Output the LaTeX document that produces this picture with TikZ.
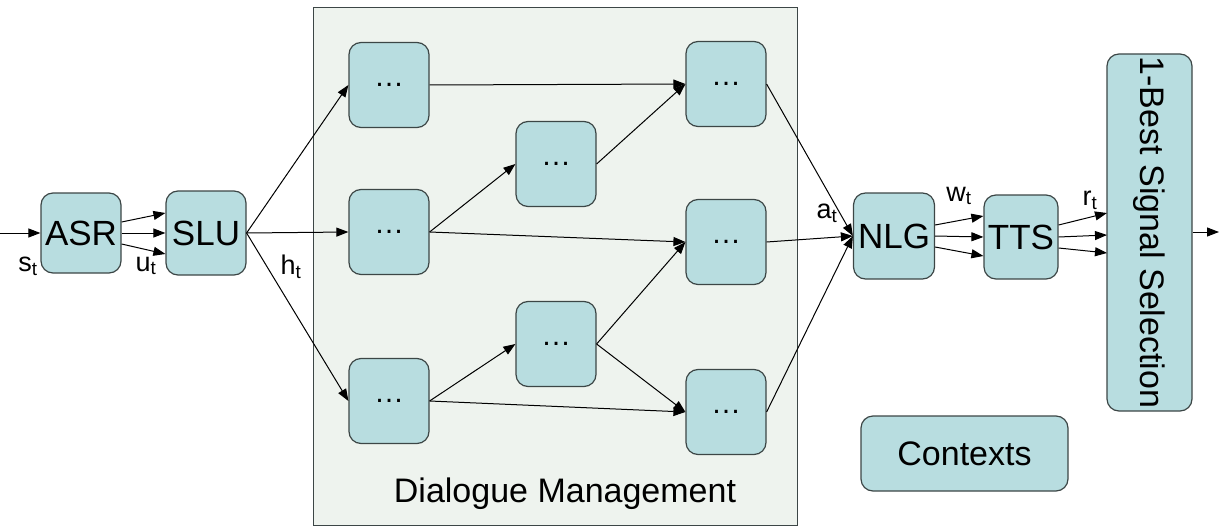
\documentclass[tikz,border=0pt]{standalone}
\usepackage{fontspec}
\setmainfont{Liberation Sans}
\usetikzlibrary{arrows.meta}
\definecolor{boxfill}{RGB}{184,221,224}
\definecolor{boxline}{RGB}{60,70,70}
\definecolor{dmfill}{RGB}{238,243,238}
\begin{document}
\begin{tikzpicture}[x=1pt,y=-1pt,
  blk/.style={draw=boxline,fill=boxfill,rounded corners=12pt,line width=1.2pt,inner sep=0pt,font=\fontsize{35}{38}\selectfont},
  dots/.style={blk,minimum width=80pt,minimum height=85pt,font=\fontsize{30}{32}\selectfont},
  arr/.style={-{Triangle[length=12pt,width=9pt]},line width=1pt,black},
  lbl/.style={font=\fontsize{27}{30}\selectfont,inner sep=0pt}
]
\useasboundingbox (0,0) rectangle (1219,527);
% Dialogue management background
\node[draw=boxline,fill=dmfill,line width=1pt,minimum width=484pt,minimum height=517pt,inner sep=0pt] (dm) at (555,266.5) {};
\node[font=\fontsize{34}{36}\selectfont] (dmlabel) at (565,494) {Dialogue Management};
% main blocks
\node[blk,minimum width=80pt,minimum height=80pt] (asr) at (81,233) {ASR};
\node[blk,minimum width=80pt,minimum height=84pt] (slu) at (206,233) {SLU};
\node[dots] (l1) at (389,85) {\dots};
\node[dots] (l2) at (389,232) {\dots};
\node[dots] (l3) at (389,401) {\dots};
\node[dots] (m1) at (556,164) {\dots};
\node[dots] (m2) at (556,344) {\dots};
\node[dots] (r1) at (726,84) {\dots};
\node[dots] (r2) at (726,242) {\dots};
\node[dots] (r3) at (726,412) {\dots};
\node[blk,minimum width=81pt,minimum height=86pt] (nlg) at (894,236) {NLG};
\node[blk,minimum width=74pt,minimum height=84pt] (tts) at (1021,237) {TTS};
\node[blk,minimum width=85pt,minimum height=357pt] (best) at (1149.5,232.5) {};
\node[rotate=-90,font=\fontsize{34}{36}\selectfont] (besttext) at (best.center) {1-Best Signal Selection};
\node[blk,minimum width=207pt,minimum height=75pt,font=\fontsize{34}{36}\selectfont] (ctx) at (964.5,453.5) {Contexts};
% labels
\node[lbl] (st) at (28,266) {s\textsubscript{t}};
\node[lbl] (ut) at (146,266) {u\textsubscript{t}};
\node[lbl] (ht) at (291,267) {h\textsubscript{t}};
\node[lbl] (at) at (827,213) {a\textsubscript{t}};
\node[lbl] (wt) at (959,196) {w\textsubscript{t}};
\node[lbl] (rt) at (1090,200) {r\textsubscript{t}};
% coordinates
\coordinate (in) at (0,233);
\coordinate (out) at (1219,232);
% input / output
\draw[arr] (in) -- (asr.west);
\draw[arr] (best.east |- out) -- (out);
% ASR -> SLU
\draw[arr] ([yshift=-11pt]asr.east) -- ([yshift=-21pt]slu.west);
\draw[arr] (asr.east) -- (slu.west);
\draw[arr] ([yshift=11pt]asr.east) -- ([yshift=20pt]slu.west);
% SLU -> left column
\draw[arr] (slu.east) -- (l1.west);
\draw[arr] (slu.east) -- (l2.west);
\draw[arr] (slu.east) -- (l3.west);
% inner connections
\draw[arr] (l1.east) -- (r1.west);
\draw[arr] (l2.east) -- (m1.west);
\draw[arr] (l2.east) -- (r2.west);
\draw[arr] (m1.east) -- (r1.west);
\draw[arr] (l3.east) -- (m2.west);
\draw[arr] (l3.east) -- (r3.west);
\draw[arr] (m2.east) -- (r2.west);
\draw[arr] (m2.east) -- (r3.west);
% right column -> NLG
\draw[arr] (r1.east) -- (nlg.west);
\draw[arr] (r2.east) -- (nlg.west);
\draw[arr] (r3.east) -- (nlg.west);
% NLG -> TTS
\draw[arr] ([yshift=-11pt]nlg.east) -- ([yshift=-19pt]tts.west);
\draw[arr] (nlg.east) -- (tts.west);
\draw[arr] ([yshift=11pt]nlg.east) -- ([yshift=21pt]tts.west);
% TTS -> best
\coordinate (b0) at (1107,235);
\draw[arr] ([yshift=-11pt]tts.east) -- ([yshift=-18pt]b0);
\draw[arr] (tts.east) -- (b0);
\draw[arr] ([yshift=12pt]tts.east) -- ([yshift=22pt]b0);
\end{tikzpicture}
\end{document}
